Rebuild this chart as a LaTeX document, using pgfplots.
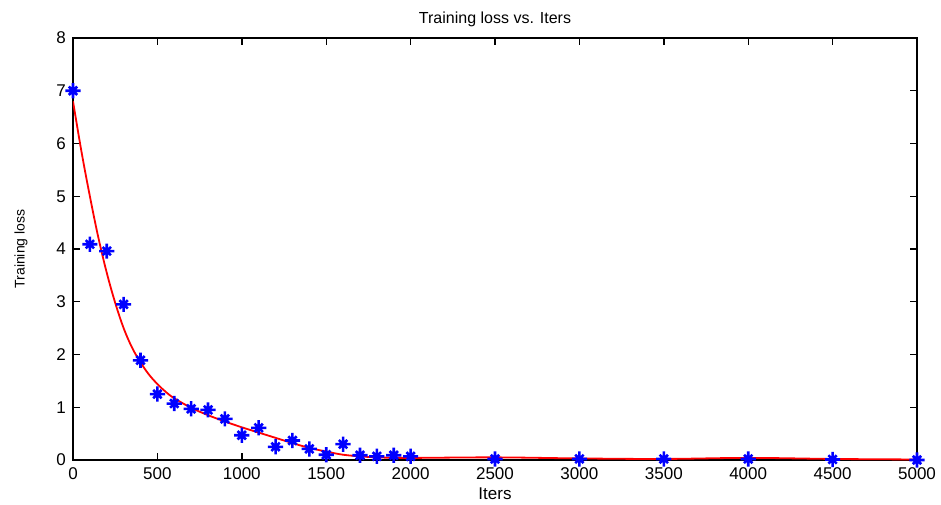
\documentclass[border=0pt]{standalone}
\usepackage{fontspec}
\setmainfont{Liberation Sans}
\usepackage{pgfplots}
\pgfplotsset{compat=1.18}
\usetikzlibrary{calc}

% MATLAB-style '*' marker: a plus with shorter diagonals
\pgfdeclareplotmark{mstar}{%
  \pgfpathmoveto{\pgfqpoint{-\pgfplotmarksize}{0pt}}%
  \pgfpathlineto{\pgfqpoint{\pgfplotmarksize}{0pt}}%
  \pgfpathmoveto{\pgfqpoint{0pt}{-\pgfplotmarksize}}%
  \pgfpathlineto{\pgfqpoint{0pt}{\pgfplotmarksize}}%
  \pgfpathmoveto{\pgfqpoint{-0.55\pgfplotmarksize}{-0.55\pgfplotmarksize}}%
  \pgfpathlineto{\pgfqpoint{0.55\pgfplotmarksize}{0.55\pgfplotmarksize}}%
  \pgfpathmoveto{\pgfqpoint{-0.55\pgfplotmarksize}{0.55\pgfplotmarksize}}%
  \pgfpathlineto{\pgfqpoint{0.55\pgfplotmarksize}{-0.55\pgfplotmarksize}}%
  \pgfusepathqstroke}

\begin{document}
\begin{tikzpicture}
\begin{axis}[
    scale only axis,
    width=422pt,
    height=211pt,
    xmin=0, xmax=5000,
    ymin=0, ymax=8,
    xtick={0,500,...,5000},
    ytick={0,1,...,8},
    tick align=inside,
    major tick length=3.5pt,
    axis line style={line width=1pt},
    tick style={line width=0.7pt,black},
    scaled x ticks=false,
    /pgf/number format/1000 sep={},
    /pgf/number format/assume math mode=true,
    tick label style={font=\fontsize{8.5}{9}\selectfont},
    xticklabel style={yshift=-0.5pt},
    title style={font=\fontsize{8}{9}\selectfont, at={(axis description cs:0.5,1)}, anchor=center, yshift=3.5pt},
    title={Training loss vs. Iters},
    xlabel={Iters},
    ylabel={Training loss},
    xlabel style={font=\fontsize{8.5}{9}\selectfont, at={(axis description cs:0.5,0)}, anchor=center, yshift=-17pt},
    ylabel style={font=\fontsize{7}{8}\selectfont, at={(axis description cs:0,0.5)}, anchor=center, yshift=26pt},
]
\addplot[red, line width=0.9pt, smooth, tension=0.6] coordinates {
    (0,6.8) (50,5.85) (100,5.0) (150,4.22) (200,3.55) (250,2.98) (300,2.5)
    (350,2.13) (400,1.85) (450,1.62) (500,1.44) (550,1.29) (600,1.17)
    (700,0.99) (800,0.85) (900,0.73) (1000,0.62) (1100,0.52) (1200,0.42)
    (1300,0.32) (1400,0.23) (1500,0.16) (1600,0.1) (1700,0.07) (1800,0.05)
    (2000,0.04) (2500,0.05) (3000,0.03) (3500,0.02) (4000,0.04) (4500,0.02)
    (5000,0.01)
};
\addplot[blue, only marks, mark=mstar, mark size=3.8pt, line width=1.3pt] coordinates {
    (0,7.0) (100,4.09) (200,3.96) (300,2.95) (400,1.89) (500,1.25)
    (600,1.07) (700,0.97) (800,0.95) (900,0.78) (1000,0.47) (1100,0.61)
    (1200,0.25) (1300,0.37) (1400,0.21) (1500,0.1) (1600,0.3) (1700,0.09)
    (1800,0.07) (1900,0.09) (2000,0.07) (2500,0.02) (3000,0.02) (3500,0.02)
    (4000,0.02) (4500,0.01) (5000,0.0)
};
\end{axis}
\pgfresetboundingbox
\path ($(current axis.south west)+(-36.5pt,-22pt)$) rectangle ($(current axis.north east)+(12pt,19pt)$);
\end{tikzpicture}
\end{document}
